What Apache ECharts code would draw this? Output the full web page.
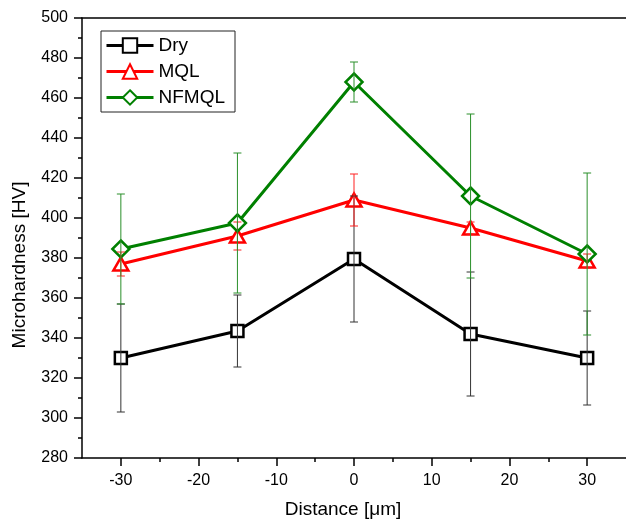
<!DOCTYPE html>
<html>
<head>
<meta charset="utf-8">
<script src="https://cdn.jsdelivr.net/npm/echarts@6/dist/echarts.min.js"></script>
<style>
  html, body { margin: 0; padding: 0; background: #fff; }
  #chart { width: 626px; height: 527px; }
</style>
</head>
<body>
<div id="chart"></div>
<script>
// Measurement positions across the joint (µm)
const distances = [-30, -15, 0, 15, 30];

// Mean microhardness (HV) and standard deviation for each condition
const dryValues = [330, 343.5, 379.5, 342, 330];
const dryErrors = [27, 18, 31.5, 31, 23.5];

const mqlValues = [377, 391, 409, 395, 378.5];
const mqlErrors = [6, 7, 13, 3, 3.5];

const nfmqlValues = [384.5, 397.5, 468, 411, 382];
const nfmqlErrors = [27.5, 35, 10, 41, 40.5];

// Axis ticks
const xMajorTicks = [-30, -20, -10, 0, 10, 20, 30];
const xMinorTicks = [-25, -15, -5, 5, 15, 25];

const FONT = '"Liberation Sans", Arial, Helvetica, sans-serif';

function pairs(values) {
  return distances.map((d, i) => [d, values[i]]);
}

function errorRows(values, errors) {
  return distances.map((d, i) => [d, values[i] - errors[i], values[i] + errors[i]]);
}

// Vertical error bar with caps, placed via the axis scales
function errorBarSeries(name, values, errors, color) {
  return {
    type: 'custom',
    name: name + ' error',
    xAxisIndex: 0,
    yAxisIndex: 0,
    z: 10,
    silent: true,
    data: errorRows(values, errors),
    renderItem: function (params, api) {
      const x = api.value(0);
      const lo = api.coord([x, api.value(1)]);
      const hi = api.coord([x, api.value(2)]);
      const half = 4;
      const style = { stroke: color, lineWidth: 1 };
      return {
        type: 'group',
        children: [
          { type: 'line', shape: { x1: lo[0], y1: lo[1], x2: hi[0], y2: hi[1] }, style: style },
          { type: 'line', shape: { x1: lo[0] - half, y1: lo[1], x2: lo[0] + half, y2: lo[1] }, style: style },
          { type: 'line', shape: { x1: hi[0] - half, y1: hi[1], x2: hi[0] + half, y2: hi[1] }, style: style }
        ]
      };
    }
  };
}

function lineSeries(name, values, color, symbol, size) {
  return {
    type: 'line',
    name: name,
    xAxisIndex: 0,
    yAxisIndex: 0,
    data: pairs(values),
    z: 3,
    symbol: symbol,
    symbolSize: size,
    showAllSymbol: true,
    lineStyle: { color: color, width: 3 },
    itemStyle: { color: '#fff', borderColor: color, borderWidth: 2.5 },
    emphasis: { disabled: true },
    animation: false
  };
}

const chart = echarts.init(document.getElementById('chart'), null, { renderer: 'canvas' });

chart.setOption({
  animation: false,
  backgroundColor: '#fff',
  grid: { left: 82, top: 18, right: -3, bottom: 69, containLabel: false },
  legend: {
    orient: 'vertical',
    left: 101,
    top: 31,
    padding: [5, 10, 5, 4],
    itemWidth: 47,
    itemHeight: 18,
    itemGap: 7,
    borderColor: '#222',
    borderWidth: 1,
    data: ['Dry', 'MQL', 'NFMQL'],
    lineStyle: { width: 3 },
    textStyle: { fontFamily: FONT, fontSize: 19, color: '#000' },
    selectedMode: false
  },
  xAxis: [
    {
      type: 'value',
      min: -35,
      max: 35,
      position: 'bottom',
      splitLine: { show: false },
      axisLine: { onZero: false, lineStyle: { color: '#000', width: 1.5 } },
      axisTick: { length: 8, customValues: xMajorTicks, lineStyle: { color: '#000', width: 1.5 } },
      axisLabel: { customValues: xMajorTicks, margin: 15, fontFamily: FONT, fontSize: 16, color: '#000' }
    },
    {
      type: 'value',
      min: -35,
      max: 35,
      position: 'bottom',
      splitLine: { show: false },
      axisLine: { show: false, onZero: false },
      axisTick: { length: 4, customValues: xMinorTicks, lineStyle: { color: '#000', width: 1.5 } },
      axisLabel: { show: false }
    },
    {
      type: 'value',
      min: -35,
      max: 35,
      position: 'top',
      splitLine: { show: false },
      axisLine: { onZero: false, lineStyle: { color: '#000', width: 1.5 } },
      axisTick: { show: false },
      axisLabel: { show: false }
    }
  ],
  yAxis: [
    {
      type: 'value',
      min: 280,
      max: 500,
      interval: 20,
      position: 'left',
      splitLine: { show: false },
      axisLine: { show: true, onZero: false, lineStyle: { color: '#000', width: 1.5 } },
      axisTick: { length: 8, lineStyle: { color: '#000', width: 1.5 } },
      minorTick: { show: true, splitNumber: 2, length: 4, lineStyle: { color: '#000', width: 1.5 } },
      axisLabel: { margin: 14, fontFamily: FONT, fontSize: 16, color: '#000' }
    }
  ],
  graphic: [
    {
      type: 'text',
      x: 20,
      y: 265,
      rotation: Math.PI / 2,
      style: {
        text: 'Microhardness [HV]',
        font: '19px ' + FONT,
        fill: '#000',
        align: 'center',
        verticalAlign: 'middle'
      }
    },
    {
      type: 'text',
      x: 343,
      y: 510,
      style: {
        text: 'Distance [\u03BCm]',
        font: '19px ' + FONT,
        fill: '#000',
        align: 'center',
        verticalAlign: 'middle'
      }
    }
  ],
  series: [
    lineSeries('Dry', dryValues, '#000000', 'rect', 12),
    lineSeries('MQL', mqlValues, '#ff0000', 'triangle', [15, 13]),
    lineSeries('NFMQL', nfmqlValues, '#008000', 'diamond', 17),
    errorBarSeries('Dry', dryValues, dryErrors, '#333333'),
    errorBarSeries('MQL', mqlValues, mqlErrors, '#ff2020'),
    errorBarSeries('NFMQL', nfmqlValues, nfmqlErrors, '#2a8f2a')
  ]
});
</script>
</body>
</html>
